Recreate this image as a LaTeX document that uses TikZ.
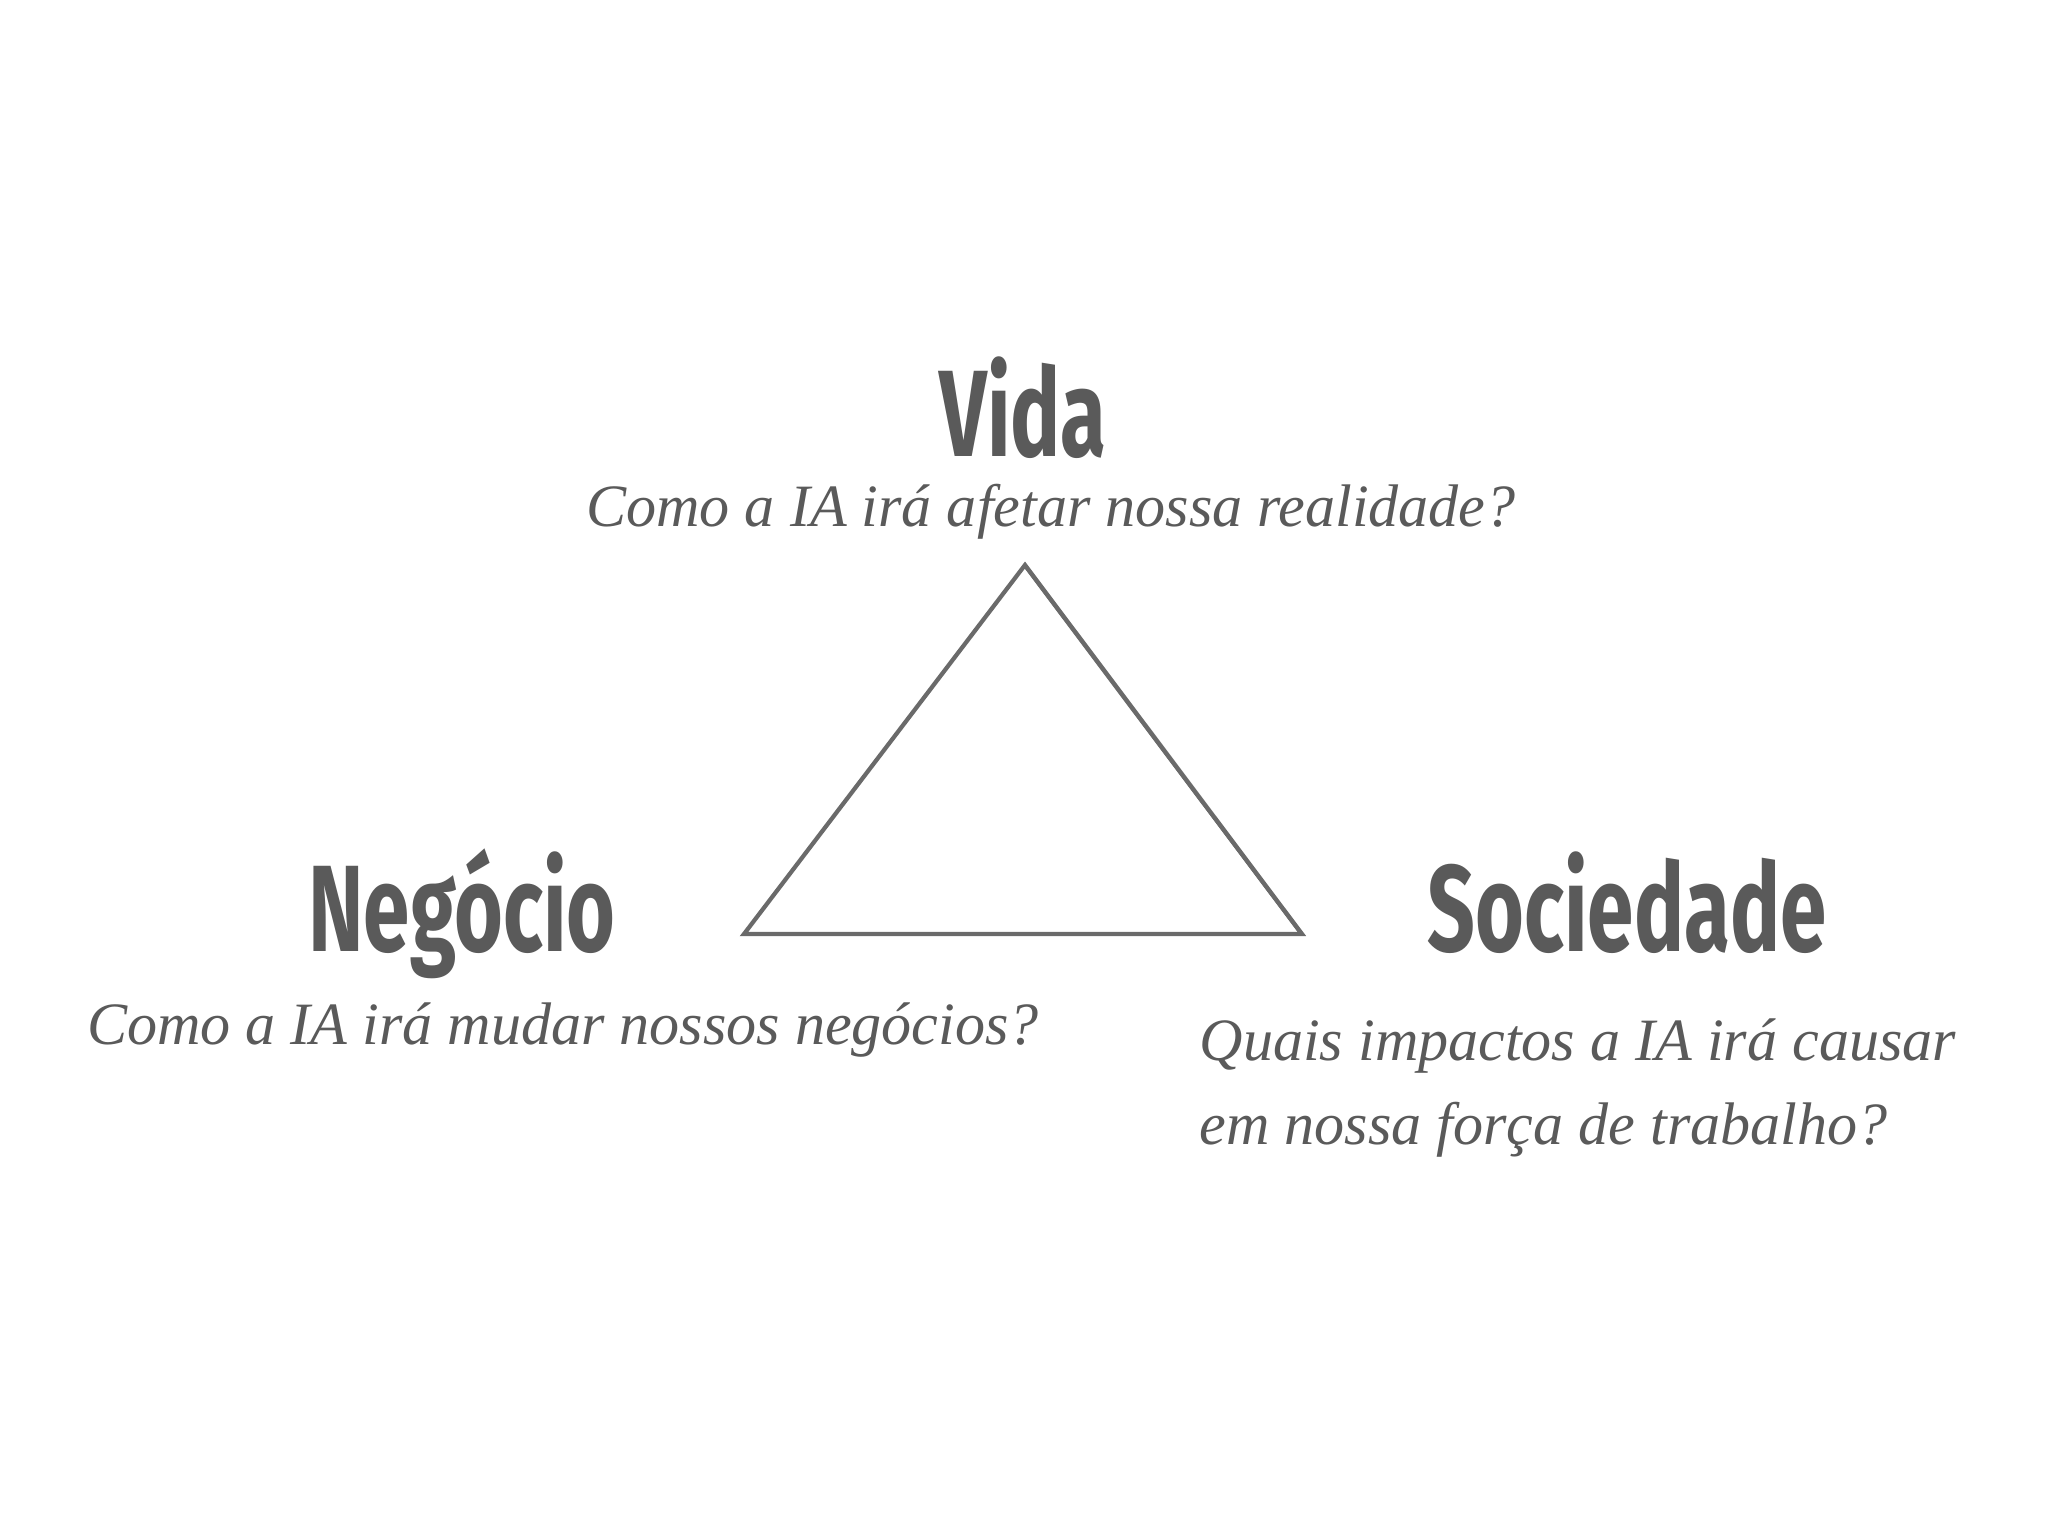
\documentclass[tikz,border=0pt]{standalone}
\usepackage{fontspec}
\usepackage{graphicx}
\newfontfamily\titlefont{Fira Sans}
\newfontfamily\qfont{Liberation Serif}
\definecolor{txtgray}{HTML}{5A5A5A}
\definecolor{trigray}{HTML}{6A6A6A}
\tikzset{
  title/.style={inner sep=0pt, text=txtgray, font=\titlefont\bfseries\fontsize{35}{40}\selectfont},
  question/.style={inner sep=0pt, text=txtgray, font=\qfont\itshape\fontsize{17.1}{21}\selectfont},
  tri/.style={draw=trigray, line width=1.2pt, line join=miter}
}
\newcommand{\cond}[1]{\scalebox{0.68}[1]{#1}}
\begin{document}
\begin{tikzpicture}
\useasboundingbox[fill=white] (0,0) rectangle (20.48,-15.36);
% titles
\node[title, anchor=base] (vida) at (10.23,-4.57) {\cond{Vida}};
\node[question, anchor=base] (qvida) at (10.51,-5.27) {Como a IA irá afetar nossa realidade?};
\node[title, anchor=base] (neg) at (4.62,-9.51) {\cond{Negócio}};
\node[question, anchor=base] (qneg) at (5.63,-10.44) {Como a IA irá mudar nossos negócios?};
\node[title, anchor=base] (soc) at (16.27,-9.51) {\cond{Sociedade}};
\node[question, anchor=base west] (qsoc1) at (11.99,-10.60) {Quais impactos a IA irá causar};
\node[question, anchor=base west] (qsoc2) at (11.99,-11.44) {em nossa força de trabalho?};
% triangle
\coordinate (apex) at (10.25,-5.65);
\coordinate (bl) at (7.44,-9.34);
\coordinate (br) at (13.02,-9.34);
\draw[tri] (apex) -- (br) -- (bl) -- cycle;
\draw[trigray, line width=0.6pt] ([yshift=0.4pt]bl) -- ([yshift=0.4pt]br);
\draw[trigray, line width=0.5pt] ([xshift=-0.5pt]apex) -- ([xshift=-0.5pt]br);
\end{tikzpicture}
\end{document}
